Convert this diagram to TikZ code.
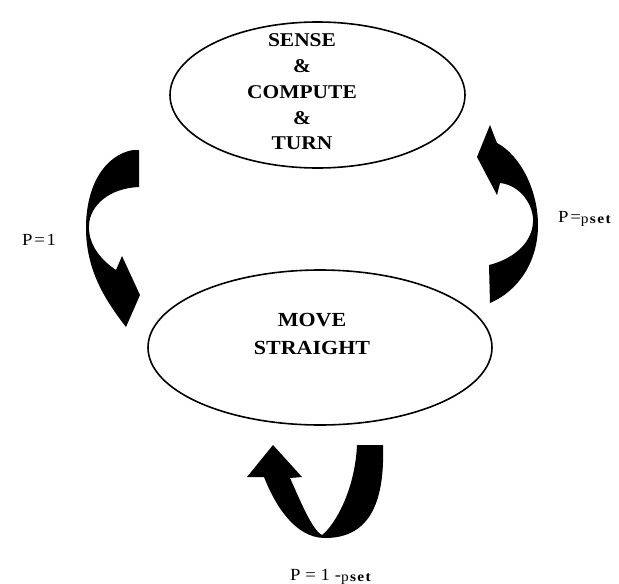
\documentclass[tikz,border=0pt]{standalone}
\usepackage{fontspec}
\setmainfont{Liberation Serif}[FakeStretch=1.1]
\newfontfamily\probfont{Liberation Serif}[FakeStretch=1.1,LetterSpace=10]
\newfontfamily\probwidefont{Liberation Serif}[FakeStretch=1.1,LetterSpace=28]
\usetikzlibrary{shapes.geometric}

\newcommand{\pset}{\raisebox{-1.5pt}{\probfont\fontsize{14}{14}\selectfont p\textbf{set}}}

\begin{document}
\begin{tikzpicture}[x=1pt,y=-1pt]
  \tikzstyle{state}=[draw,ellipse,line width=1.6pt,inner sep=0pt]
  \tikzstyle{statetext}=[align=center,inner sep=0pt]
  \tikzstyle{blockarrow}=[fill=black]
  \tikzstyle{prob}=[anchor=base west,inner sep=0pt,font=\probfont\fontsize{17}{17}\selectfont]
  \useasboundingbox (0,0) rectangle (619,584);
  % the two states
  \node[state,minimum width=295pt,minimum height=146pt] (sense) at (317.5,95) {};
  \node[state,minimum width=344pt,minimum height=155pt] (move) at (320,347.5) {};
  \node[statetext,font=\bfseries\fontsize{19.5}{25.7}\selectfont] (sensetext) at (302,92) {SENSE\\\&\\COMPUTE\\\&\\TURN};
  \node[statetext,font=\bfseries\fontsize{20}{28}\selectfont] (movetext) at (312,333.5) {MOVE\\STRAIGHT};
  % sense -> move
  \fill[blockarrow] (139,150) -- (133,150) .. controls (105,155) and (86,185) .. (86,228)
    .. controls (86,270) and (105,300) .. (126,327) -- (140,295) -- (122,256) -- (116,270)
    .. controls (98,258) and (88,242) .. (89,225) .. controls (90,205) and (110,188) .. (139,187) -- cycle;
  % move -> sense
  \fill[blockarrow] (489,265) -- (490,303) .. controls (520,290) and (538,260) .. (538,225)
    .. controls (538,190) and (520,155) .. (497,143) -- (490,125) -- (477,157) -- (497,195) -- (500,183)
    .. controls (520,185) and (534,205) .. (533,222) .. controls (532,245) and (510,260) .. (489,265) -- cycle;
  % move -> move
  \fill[blockarrow] (357,445) -- (383,445) .. controls (385,505) and (368,538) .. (325,538)
    .. controls (295,538) and (275,505) .. (264,477) -- (247,477) -- (273,445) -- (302,477) -- (290,478)
    .. controls (300,500) and (312,530) .. (322,535) .. controls (335,525) and (355,490) .. (357,445) -- cycle;
  % probabilities
  \node[prob] (pone) at (22,245) {P=1};
  \node[prob] (pset) at (558,222) {P=\pset};
  \node[prob,font=\probwidefont\fontsize{17}{17}\selectfont] (pstay) at (290,580) {P=1-\pset};
\end{tikzpicture}
\end{document}
